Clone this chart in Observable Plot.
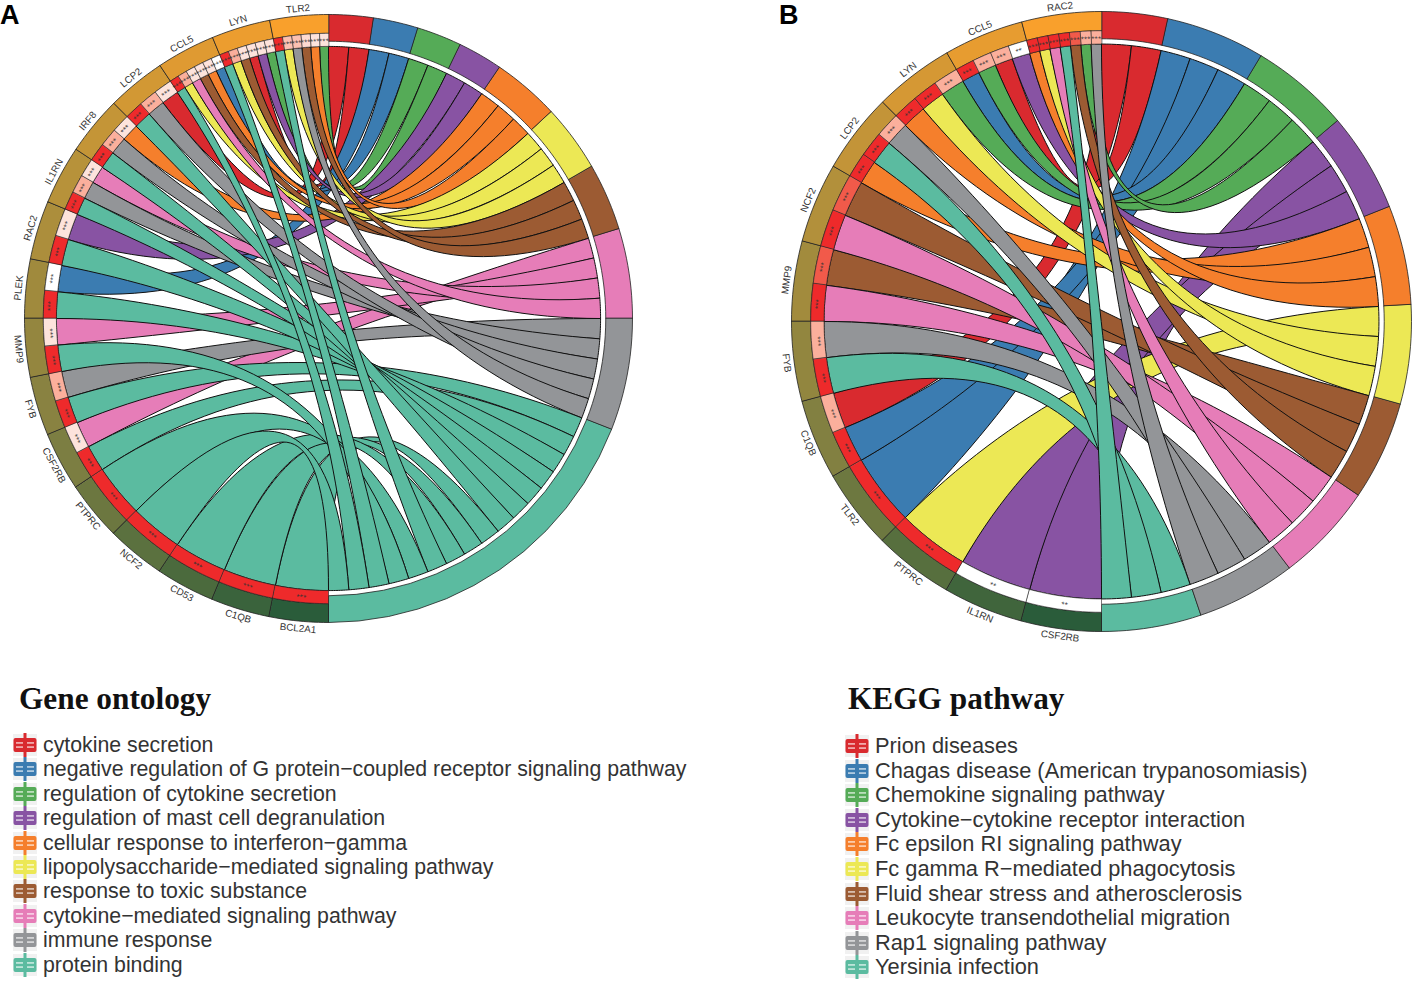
<!DOCTYPE html>
<html><head><meta charset="utf-8">
<script src="https://cdn.jsdelivr.net/npm/d3@7"></script>
<script src="https://cdn.jsdelivr.net/npm/@observablehq/plot@0.6"></script>
<style>
html,body{margin:0;background:#fff}
#page{position:relative;width:1412px;height:981px;overflow:hidden;font-family:"Liberation Sans",sans-serif}
.panel{position:absolute;top:0}
.tag{position:absolute;font:bold 27px "Liberation Sans";color:#000}
.ttl{position:absolute;font:bold 31.3px "Liberation Serif";color:#111;white-space:nowrap}
.it{position:absolute;color:#333;white-space:nowrap;line-height:24px}
.it svg{position:absolute;top:-3px}
</style></head><body><div id="page"></div>
<script>
// ---------- data ----------
const termKeys = ["red","blue","green","purple","orange","yellow","brown","pink","gray","teal"];
const termLabelsA = ["cytokine secretion","negative regulation of G protein\u2212coupled receptor signaling pathway","regulation of cytokine secretion","regulation of mast cell degranulation","cellular response to interferon\u2212gamma","lipopolysaccharide\u2212mediated signaling pathway","response to toxic substance","cytokine\u2212mediated signaling pathway","immune response","protein binding"];
const termLabelsB = ["Prion diseases","Chagas disease (American trypanosomiasis)","Chemokine signaling pathway","Cytokine\u2212cytokine receptor interaction","Fc epsilon RI signaling pathway","Fc gamma R\u2212mediated phagocytosis","Fluid shear stress and atherosclerosis","Leukocyte transendothelial migration","Rap1 signaling pathway","Yersinia infection"];
const genesA = ["TLR2","LYN","CCL5","LCP2","IRF8","IL1RN","RAC2","PLEK","MMP9","FYB","CSF2RB","PTPRC","NCF2","CD53","C1QB","BCL2A1"];
const genesB = ["RAC2","CCL5","LYN","LCP2","NCF2","MMP9","FYB","C1QB","TLR2","PTPRC","IL1RN","CSF2RB"];
// terms of each gene, in order from the top seam going counter-clockwise
const geneTermsA = [["green","orange","brown","gray","yellow","teal"],["green","purple","red","brown","yellow","teal"],["blue","orange","brown","pink","yellow","teal"],["red","gray","teal"],["orange","gray","teal"],["pink","gray","teal"],["purple","teal"],["blue","teal"],["pink","teal"],["gray","teal"],["pink","teal"],["teal"],["teal"],["teal"],["teal"],["teal"]];
const geneLevelsA = [[.2,.2,.25,.4,.4,1],[.2,.2,.2,.2,.5,1],[0,.2,.2,.2,.5,1],[.2,.5,1],[.2,.5,1],[.2,.5,1],[.2,1],[0,1],[.2,1],[.5,1],[.2,1],[1],[1],[1],[1],[1]];
const geneTermsB = [["gray","green","brown","teal","pink","yellow","orange"],["purple","red","green","blue"],["green","yellow","orange"],["gray","teal","orange"],["brown","pink"],["brown","pink"],["gray","teal"],["red","blue"],["blue"],["yellow"],["purple"],["purple"]];
const geneLevelsB = [[.5,.5,.8,1,1,1,1],[0,.5,.5,1],[.5,1,1],[.5,1,1],[.8,1],[.8,1],[.5,1],[.5,1],[1],[1],[0],[0]];
// genes of each term, in order clockwise from the top of the term's arc
const termGenesA = [["LCP2","LYN"],["PLEK","CCL5"],["LYN","TLR2"],["RAC2","LYN"],["IRF8","CCL5","TLR2"],["CCL5","LYN","TLR2"],["CCL5","LYN","TLR2"],["CSF2RB","MMP9","IL1RN","CCL5"],["FYB","IL1RN","IRF8","LCP2","TLR2"],
  ["FYB","CSF2RB","PLEK","RAC2","IL1RN","IRF8","LCP2","BCL2A1","C1QB","CD53","TLR2","PTPRC","MMP9","LYN","CCL5","NCF2"]];
const termGenesB = [["C1QB","CCL5"],["TLR2","C1QB","CCL5"],["LYN","CCL5","RAC2"],["CSF2RB","IL1RN","CCL5"],["LCP2","LYN","RAC2"],["PTPRC","LYN","RAC2"],["MMP9","NCF2","RAC2"],["MMP9","NCF2","RAC2"],["FYB","LCP2","RAC2"],["FYB","LCP2","RAC2"]];
// ---------- styles ----------
const palette = ["#D92A2F","#3B7CB1","#55AB57","#8853A3","#F57F2C","#ECE855","#9C5B33","#E67DB8","#939598","#5BBBA0"];
const geneRamp = d3.scaleLinear().domain([0,.33,.66,1]).range(["#F9A02C","#B8923A","#7E7F42","#2A5C3A"]);
const boxRamp = d3.scaleLinear().domain([0,.2,.5,.8,1]).range(["#FFFFFF","#FDE3DC","#FBAF9C","#F15A4A","#EE2A2B"]);
const RING = {out:1, geneIn:.938, termIn:.912, link:.895};
const rad = d => d*Math.PI/180;
const gP = (a,r)=>[-r*Math.sin(rad(a)), r*Math.cos(rad(a))];
const tP = (b,r)=>[ r*Math.sin(rad(b)), r*Math.cos(rad(b))];
const arc = (f,a0,a1,r)=>d3.range(0,13).map(i=>f(a0+(a1-a0)*i/12,r));
const bez = (p,q)=>d3.range(0,41).map(i=>{const t=i/40,u=(1-t)*(1-t),v=t*t;return [u*p[0]+v*q[0],u*p[1]+v*q[1]];});

function build(genes, geneTerms, geneLevels, termGenes, whiteStars){
  const nLinks = d3.sum(geneTerms,d=>d.length), gw = 180/genes.length, tw = 180/nLinks;
  const polys=[], stars=[], labels=[];
  const add=(pts,fill,kind)=>{const id=polys.length;polys.push({id,pts,fill,kind});};
  const gSlot=new Map(), tSlot=new Map();
  genes.forEach((g,i)=>{const n=geneTerms[i].length;geneTerms[i].forEach((t,k)=>{
    gSlot.set(g+"|"+t,[i*gw+k*gw/n,i*gw+(k+1)*gw/n,geneLevels[i][k]]);});});
  let b=0;
  const spans=[];
  termKeys.forEach((t,j)=>{const s=b;termGenes[j].forEach(g=>{tSlot.set(g+"|"+t,[b,b+tw]);b+=tw;});spans.push([s,b]);});
  termKeys.forEach((t,j)=>{ termGenes[j].forEach(g=>{
    const ga=gSlot.get(g+"|"+t), tb=tSlot.get(g+"|"+t);
    const pts=[...bez(gP(ga[0],RING.link),tP(tb[0],RING.link)),...arc(tP,tb[0],tb[1],RING.link),...bez(tP(tb[1],RING.link),gP(ga[1],RING.link)),...arc(gP,ga[1],ga[0],RING.link)];
    add(pts,palette[j],"link");
  });});
  termKeys.forEach((t,j)=>add([...arc(tP,spans[j][0],spans[j][1],RING.out),...arc(tP,spans[j][1],spans[j][0],RING.termIn)],palette[j],"ring"));
  genes.forEach((g,i)=>{
    add([...arc(gP,i*gw,(i+1)*gw,RING.out),...arc(gP,(i+1)*gw,i*gw,RING.geneIn)],geneRamp(i/(genes.length-1)),"ring");
    const mid=(i+.5)*gw,[x,y]=gP(mid,1.024);
    labels.push({x,y,text:g,rotate:mid<90?-mid:180-mid});
    const n=geneTerms[i].length;
    geneTerms[i].forEach((t,k)=>{
      const a0=i*gw+k*gw/n,a1=a0+gw/n,lv=geneLevels[i][k];
      add([...arc(gP,a0,a1,RING.geneIn),...arc(gP,a1,a0,RING.link)],boxRamp(lv),"box");
      const m=(a0+a1)/2,[sx,sy]=gP(m,(RING.geneIn+RING.link)/2);
      stars.push({x:sx,y:sy,text:lv===0?whiteStars:"***",rotate:m<90?-m:180-m});
    });
  });
  return {polys,stars,labels};
}
const rows = (polys,kind)=>polys.filter(p=>p.kind===kind).flatMap(p=>p.pts.map(([x,y])=>({id:p.id,x,y,fill:p.fill})));
function chord(d,width,cx,cy,R){
  const mk=(kind,o)=>Plot.line(rows(d.polys,kind),{x:"x",y:"y",z:"id",fill:"fill",curve:"linear-closed",...o});
  return Plot.plot({width,height:650,margin:0,
    x:{domain:[-1,1],range:[cx-R,cx+R],axis:null},
    y:{domain:[-1,1],range:[cy+R,cy-R],axis:null},
    color:{type:"identity"},
    marks:[
      mk("link",{stroke:"#111",strokeWidth:1}),
      mk("ring",{stroke:"#222",strokeWidth:.8}),
      mk("box",{stroke:"#222",strokeWidth:.6}),
      Plot.text(d.stars,{x:"x",y:"y",text:"text",rotate:"rotate",fontSize:6,fill:"#333",dy:1.3}),
      Plot.text(d.labels,{x:"x",y:"y",text:"text",rotate:"rotate",fontSize:9.8,fill:"#333",fontFamily:"Liberation Sans"})
    ]});
}
const page=document.getElementById("page");
function place(svg,left){const w=document.createElement("div");w.className="panel";w.style.left=left+"px";w.appendChild(svg);page.appendChild(w);}
place(chord(build(genesA,geneTermsA,geneLevelsA,termGenesA,"***"),706,328,318,304),0);
place(chord(build(genesB,geneTermsB,geneLevelsB,termGenesB,"**"),706,395,321,310),706);
function tag(t,x,y){const e=document.createElement("div");e.className="tag";e.textContent=t;e.style.left=x+"px";e.style.top=y+"px";page.appendChild(e);}
tag("A",0,0);tag("B",779,0);
function swatch(c){return `<svg width="26" height="30" viewBox="0 0 26 30" style="left:-31px"><rect x="1" y="4" width="24" height="22" fill="#e8e8e8" opacity=".6"/><rect x="11.5" y="3" width="3" height="24" fill="${c}"/><rect x="1.5" y="8" width="23" height="14" rx="2" fill="${c}"/><rect x="4" y="12" width="7" height="1.8" fill="#fff" opacity=".6"/><rect x="15" y="12" width="7" height="1.8" fill="#fff" opacity=".6"/><rect x="4" y="16.2" width="7" height="1.8" fill="#fff" opacity=".6"/><rect x="15" y="16.2" width="7" height="1.8" fill="#fff" opacity=".6"/></svg>`;}
function legend(title,tx,ty,labels,x,y0,dy,fs){
  const t=document.createElement("div");t.className="ttl";t.textContent=title;t.style.left=tx+"px";t.style.top=ty+"px";page.appendChild(t);
  labels.forEach((l,i)=>{const e=document.createElement("div");e.className="it";e.style.fontSize=fs+"px";e.style.left=x+"px";e.style.top=(y0+i*dy-12)+"px";e.innerHTML=swatch(palette[i])+`<span>${l}</span>`;page.appendChild(e);});
}
legend("Gene ontology",19,681,termLabelsA,43,745,24.4,21.3);
legend("KEGG pathway",848,681,termLabelsB,875,746,24.6,21.8);
</script></body></html>
